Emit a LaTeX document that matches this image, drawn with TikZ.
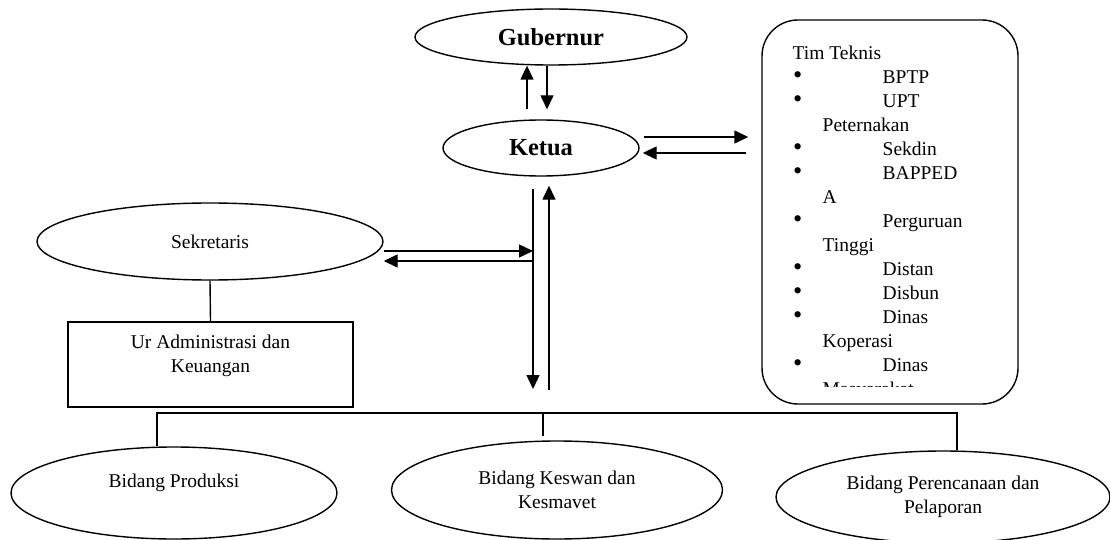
\documentclass[tikz,border=0pt]{standalone}
\usepackage{fontspec}
\setmainfont{Liberation Serif}
\usetikzlibrary{shapes.geometric,arrows.meta,calc}
\newcommand{\tiitem}[1]{\makebox[90pt][l]{\hspace{0.5pt}\raisebox{-0.5pt}{\scalebox{1.35}{\textbullet}}}#1}
\newcommand{\ticont}[1]{\hspace*{30pt}#1}
\tikzset{
 oval/.style={draw,ellipse,inner sep=0pt,align=center},
 bigoval/.style={oval,font=\fontsize{24.5}{29}\selectfont\bfseries},
 arr/.style={-{Triangle[length=14pt,width=13pt]}},
}
\begin{document}
\begin{tikzpicture}[x=1pt,y=-1pt,line width=1.4pt,font=\fontsize{19.5}{24}\selectfont]
 \useasboundingbox (0,0) rectangle (1110,540);
 % pimpinan
 \node[bigoval,minimum width=272pt,minimum height=56pt](gub) at (551,37){Gubernur};
 \node[bigoval,minimum width=196pt,minimum height=56pt](ket) at (541,148){Ketua};
 \node[oval,minimum width=346pt,minimum height=77pt](sek) at (210,241.5){Sekretaris};
 \node[draw,minimum width=285pt,minimum height=85pt](ur) at (210.5,364.5){};
 \node[align=center](urtext) at ($(ur.center)+(0,-8.5)$){Ur Administrasi dan\\Keuangan};
 % tim teknis
 \node[draw,rounded corners=36pt,minimum width=256pt,minimum height=384pt](tim) at (890,212){};
 \begin{scope}
 \clip (770,25) rectangle (1010,386.5);
 \node[anchor=north west,inner sep=0pt,align=left](timlist) at (792,45){Tim Teknis\\
 \tiitem{BPTP}\\
 \tiitem{UPT}\\
 \ticont{Peternakan}\\
 \tiitem{Sekdin}\\
 \tiitem{BAPPED}\\
 \ticont{A}\\
 \tiitem{Perguruan}\\
 \ticont{Tinggi}\\
 \tiitem{Distan}\\
 \tiitem{Disbun}\\
 \tiitem{Dinas}\\
 \ticont{Koperasi}\\
 \tiitem{Dinas}\\
 \ticont{Masyarakat}};
 \end{scope}
 % bidang
 \node[oval,minimum width=326pt,minimum height=92pt](prod) at (174,493){Bidang Produksi\\~};
 \node[oval,minimum width=331pt,minimum height=98pt](kes) at (557,490){Bidang Keswan dan\\Kesmavet};
 \node[oval,minimum width=334pt,minimum height=92pt](pere) at (943,497){Bidang Perencanaan dan\\Pelaporan};
 % titik bantu
 \coordinate (kn1) at ($(ket.north)+(-14,-10)$);
 \coordinate (ke1) at ($(ket.east)+(4,-11)$);
 \coordinate (ke2) at ($(ket.east)+(3,5)$);
 \coordinate (dtop) at ($(ket.south)+(-8,12)$);
 \coordinate (utop) at ($(ket.south)+(8,9)$);
 \coordinate (se1) at ($(sek.east)+(0,9.5)$);
 \coordinate (se2) at ($(sek.east)+(0,19.5)$);
 \coordinate (bar) at (543,413);
 % panah
 \draw[arr](kn1)--(kn1 |- gub.south);
 \draw[arr]($(gub.south)+(-4,0)$)--($(ket.north)+(6,-10)$);
 \draw[arr,shorten >=13pt](ke1)--(ke1 -| tim.west);
 \draw[arr,shorten <=15pt](ke2 -| tim.west)--(ke2);
 \draw[arr,shorten >=24pt](dtop)--(dtop |- bar);
 \draw[arr,shorten <=23pt](utop |- bar)--(utop);
 \draw[arr](se1)--(se1 -| dtop);
 \draw[arr](se2 -| dtop)--(se2);
 % garis
 \draw(sek.south)--(ur.north);
 \draw(bar)--++(0,23);
 \draw($(prod.north)+(-17,0)$)|-(bar)-|($(pere.north)+(14,0)$);
\end{tikzpicture}
\end{document}
